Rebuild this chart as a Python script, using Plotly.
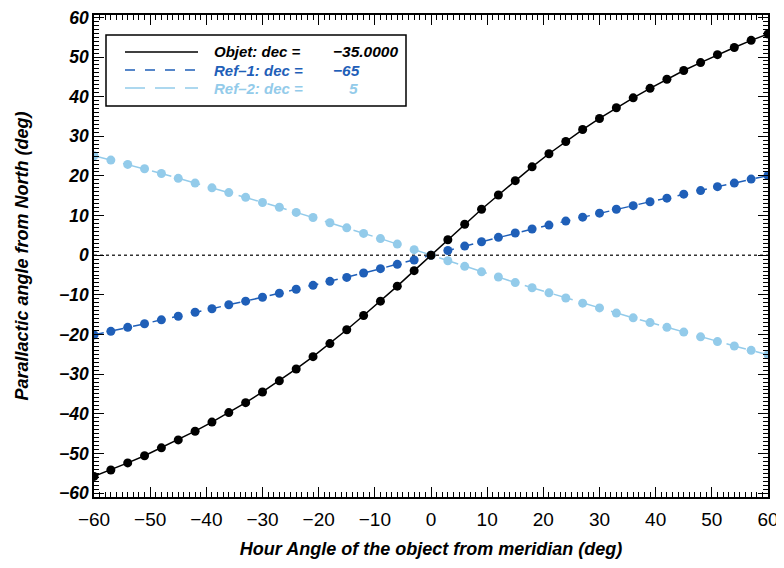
import plotly.graph_objects as go

# ---- data ----
hour_angle = [-60, -57, -54, -51, -48, -45, -42, -39, -36, -33, -30, -27, -24, -21,
              -18, -15, -12, -9, -6, -3, 0, 3, 6, 9, 12, 15, 18, 21, 24, 27, 30,
              33, 36, 39, 42, 45, 48, 51, 54, 57, 60]

objet_pa = [-55.8, -54.2, -52.4, -50.6, -48.6, -46.6, -44.4, -42.1, -39.7, -37.2,
            -34.5, -31.7, -28.7, -25.6, -22.3, -18.8, -15.2, -11.6, -7.8, -3.9, 0.0,
            3.9, 7.8, 11.6, 15.2, 18.8, 22.3, 25.6, 28.7, 31.7, 34.5, 37.2, 39.7,
            42.1, 44.4, 46.6, 48.6, 50.6, 52.4, 54.2, 55.8]

ref1_pa = [-20.1, -19.2, -18.2, -17.3, -16.3, -15.4, -14.4, -13.5, -12.5, -11.6,
           -10.6, -9.6, -8.6, -7.6, -6.6, -5.6, -4.5, -3.4, -2.3, -1.2, 0.0,
           1.2, 2.3, 3.4, 4.5, 5.6, 6.6, 7.6, 8.6, 9.6, 10.6, 11.6, 12.5, 13.5,
           14.4, 15.4, 16.3, 17.3, 18.2, 19.2, 20.1]

ref2_pa = [25.1, 24.0, 22.9, 21.8, 20.6, 19.4, 18.2, 17.0, 15.8, 14.6, 13.3, 12.1,
           10.8, 9.5, 8.2, 6.9, 5.5, 4.2, 2.8, 1.4, 0.0, -1.4, -2.8, -4.2, -5.5,
           -6.9, -8.2, -9.5, -10.8, -12.1, -13.3, -14.6, -15.8, -17.0, -18.2,
           -19.4, -20.6, -21.8, -22.9, -24.0, -25.1]

legend_labels = ["Objet: dec =", "Ref\u20131: dec =", "Ref\u20132: dec ="]
legend_values = ["\u221235.0000", "\u221265", "5"]

x_range = [-60, 60]
y_range = [-61, 60.6]
major_step = 10
minor_ticks = list(range(-60, 61))          # every degree gets a small tick
tick_text = [(str(v).replace("-", "\u2212") if v % major_step == 0 else "") for v in minor_ticks]

BLACK = "#000000"
DARK_BLUE = "#1f5fb8"
LIGHT_BLUE = "#93cbea"
FONT = "Liberation Sans, Arial, Helvetica, sans-serif"

fig = go.Figure()

series = [
    (ref1_pa, DARK_BLUE, "10px,10px", legend_labels[1]),
    (ref2_pa, LIGHT_BLUE, "20px,10px", legend_labels[2]),
    (objet_pa, BLACK, "solid", legend_labels[0]),
]
for vals, col, dash, name in series:
    fig.add_trace(go.Scatter(
        x=hour_angle, y=vals, mode="lines+markers", name=name,
        line=dict(color=col, width=1.5, dash=dash),
        marker=dict(color=col, size=9, line=dict(width=0)),
        showlegend=False,
    ))

# invisible copies that bring up the overlay axes carrying the long (major) ticks
fig.add_trace(go.Scatter(x=hour_angle, y=objet_pa, xaxis="x2", yaxis="y", mode="markers",
                         marker=dict(opacity=0), showlegend=False, hoverinfo="skip"))
fig.add_trace(go.Scatter(x=hour_angle, y=objet_pa, xaxis="x", yaxis="y2", mode="markers",
                         marker=dict(opacity=0), showlegend=False, hoverinfo="skip"))

# zero reference line
fig.add_shape(type="line", xref="paper", x0=0, x1=1, yref="y", y0=0, y1=0,
              line=dict(color="#333333", width=1.5, dash="dot"), layer="below")

# ---- manual legend (paper coords); page has an 8px body margin ----
OFF = 8
PL, PW, PT, PH = 94 - OFF, 674, 15 - OFF, 482
def px(xp):
    return (xp - OFF - PL) / PW
def py(yp):
    return (PT + PH - (yp - OFF)) / PH

fig.add_shape(type="rect", xref="paper", yref="paper",
              x0=px(106), x1=px(406), y0=py(35), y1=py(106),
              line=dict(color=BLACK, width=1.5), fillcolor="white", layer="above")
legend_rows = [52, 70, 88]
legend_styles = [(BLACK, "solid"), (DARK_BLUE, "10px,10px"), (LIGHT_BLUE, "20px,10px")]
legend_value_x = [331, 331, 347]
for i, (row, (col, dash)) in enumerate(zip(legend_rows, legend_styles)):
    fig.add_shape(type="line", xref="paper", yref="paper",
                  x0=px(125), x1=px(198), y0=py(row), y1=py(row),
                  line=dict(color=col, width=1.5, dash=dash), layer="above")
    fig.add_annotation(xref="paper", yref="paper", x=px(212), y=py(row),
                       text=legend_labels[i], showarrow=False, xanchor="left", yanchor="middle",
                       font=dict(family=FONT, size=15, color=col, weight="bold", style="italic"))
    fig.add_annotation(xref="paper", yref="paper", x=px(legend_value_x[i]), y=py(row),
                       text=legend_values[i], showarrow=False, xanchor="left", yanchor="middle",
                       font=dict(family=FONT, size=15.5, color=col, weight="bold", style="italic"))

# main axes: a short tick at every degree, labels only at the decades
axis_common = dict(
    showgrid=False, zeroline=False, showline=True, linecolor=BLACK, linewidth=1.5,
    mirror="ticks", ticks="inside", ticklen=5, tickwidth=1, tickcolor=BLACK,
    tickmode="array", tickvals=minor_ticks, ticktext=tick_text, automargin=False,
    ticklabeloverflow="allow",
)
# overlay axes: the long ticks at the decades, no labels
major_common = dict(
    showgrid=False, zeroline=False, showline=False, showticklabels=False,
    mirror="ticks", ticks="inside", ticklen=10, tickwidth=1.2, tickcolor=BLACK,
    tickmode="linear", tick0=0, dtick=major_step, automargin=False, fixedrange=True,
)

fig.update_layout(
    width=776, height=560,
    margin=dict(l=PL, r=776 - PL - PW, t=PT, b=560 - PT - PH),
    paper_bgcolor="white", plot_bgcolor="white",
    font=dict(family=FONT, color=BLACK),
    xaxis=dict(
        range=x_range, **axis_common, ticklabelstandoff=4,
        tickfont=dict(family=FONT, size=19, color=BLACK),
        title=dict(text="Hour Angle of the object from meridian (deg)", standoff=14,
                   font=dict(family=FONT, size=18, color=BLACK, weight="bold", style="italic")),
    ),
    yaxis=dict(
        range=y_range, **axis_common,
        tickfont=dict(family=FONT, size=17.5, color=BLACK, weight="bold", style="italic"),
        title=dict(text="Parallactic angle from North (deg)", standoff=26,
                   font=dict(family=FONT, size=18, color=BLACK, weight="bold", style="italic")),
    ),
    xaxis2=dict(range=x_range, overlaying="x", anchor="y", side="bottom", **major_common),
    yaxis2=dict(range=y_range, overlaying="y", anchor="x", side="left", **major_common),
)

fig.write_html("out.html")
